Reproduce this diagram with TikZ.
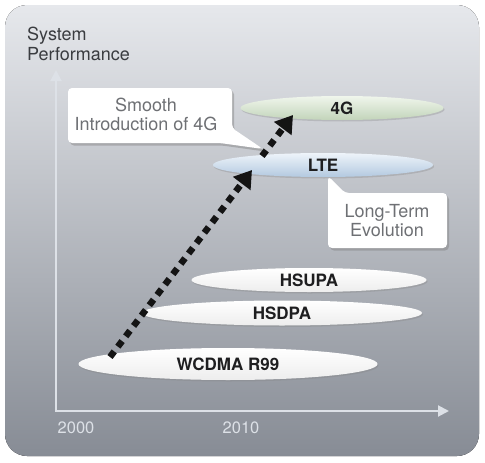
\documentclass[tikz,border=0pt]{standalone}
\usepackage{fontspec}
\setmainfont{TeX Gyre Heros}
\usetikzlibrary{shapes.geometric,arrows.meta,shadows}

\definecolor{bgtop}{HTML}{E6E8EC}
\definecolor{bgmid}{HTML}{BDC1C8}
\definecolor{bgbot}{HTML}{878C95}
\definecolor{axiscol}{HTML}{DDE1E7}
\definecolor{titletext}{HTML}{3A3C40}
\definecolor{notetext}{HTML}{6E7074}
\definecolor{techtext}{HTML}{1E1E20}
\definecolor{greentop}{HTML}{F0F6EC}
\definecolor{greenbot}{HTML}{C2D4BA}
\definecolor{bluetop}{HTML}{EEF4FA}
\definecolor{bluebot}{HTML}{B3C9E0}

\tikzset{
	tech/.style={ellipse, inner sep=0pt, text=techtext,
		font=\fontsize{17}{20}\selectfont\bfseries,
		drop shadow={opacity=0.3, shadow xshift=1pt, shadow yshift=-1.5pt}},
	plain/.style={top color=white, bottom color=white!93!black},
	greenish/.style={top color=greentop, bottom color=greenbot},
	bluish/.style={top color=bluetop, bottom color=bluebot},
	callout/.style={fill=white, rounded corners=4pt,
		drop shadow={opacity=0.45, shadow xshift=2pt, shadow yshift=-2.5pt}},
	note/.style={align=center, inner sep=0pt, text=notetext,
		font=\fontsize{18}{19}\selectfont},
	year/.style={inner sep=0pt, text=axiscol, font=\fontsize{16.5}{18}\selectfont},
	axis/.style={draw=axiscol, line width=2pt,
		arrows={Triangle[width=11pt,length=11pt]-Triangle[width=11pt,length=11pt]}},
	migration/.style={draw=black!92, line width=6.5pt, dash pattern=on 7pt off 6pt,
		-{Triangle[width=21pt,length=17pt]}}
}

\begin{document}
\begin{tikzpicture}[x=1pt,y=-1pt]

	\useasboundingbox (0,0) rectangle (485,463);
	\fill[rounded corners=22pt, top color=bgtop, middle color=bgmid, bottom color=bgbot] (5,5) rectangle (479,456);

	\coordinate (origin) at (56,411);
	\coordinate (ytop) at (56,70);
	\coordinate (xend) at (449,411);
	\draw[axis] (ytop) -- (origin) -- (xend);

	\node[anchor=north west, align=left, inner sep=0pt, text=titletext, font=\fontsize{18}{20}\selectfont] (perf) at (27,27) {System\\Performance};
	\node[year] (y2000) at (76,428) {2000};
	\node[year] (y2010) at (241,428) {2010};

	\node[tech, plain, minimum width=299pt, minimum height=32pt] (wcdma) at (228,364) {WCDMA R99};
	\node[tech, plain, minimum width=280pt, minimum height=25pt] (hsdpa) at (282,313) {HSDPA};
	\node[tech, plain, minimum width=235pt, minimum height=24pt] (hsupa) at (309,280) {HSUPA};
	\node[tech, bluish, minimum width=220pt, minimum height=24pt] (lte) at (323,165) {LTE};
	\node[tech, greenish, minimum width=203pt, minimum height=24pt] (fourg) at (342,108) {4G};

	\fill[callout] (68,88) -- (232,88) -- (232,128) -- (263,149) -- (220,143) -- (68,143) -- cycle;
	\node[note] (smooth) at (146,114.5) {Smooth\\Introduction of 4G};

	\fill[callout] (328,176) -- (345,193) -- (447,193) -- (447,248) -- (328,248) -- cycle;
	\node[note] (ltenote) at (387,220.5) {Long-Term\\Evolution};

	\coordinate (launch) at (110,357);
	\coordinate (lteentry) at (252,170);
	\coordinate (lteexit) at (262,156);
	\coordinate (fourgentry) at (293,115);
	\draw[migration] (launch) -- (lteentry);
	\draw[migration] (lteexit) -- (fourgentry);

\end{tikzpicture}
\end{document}
